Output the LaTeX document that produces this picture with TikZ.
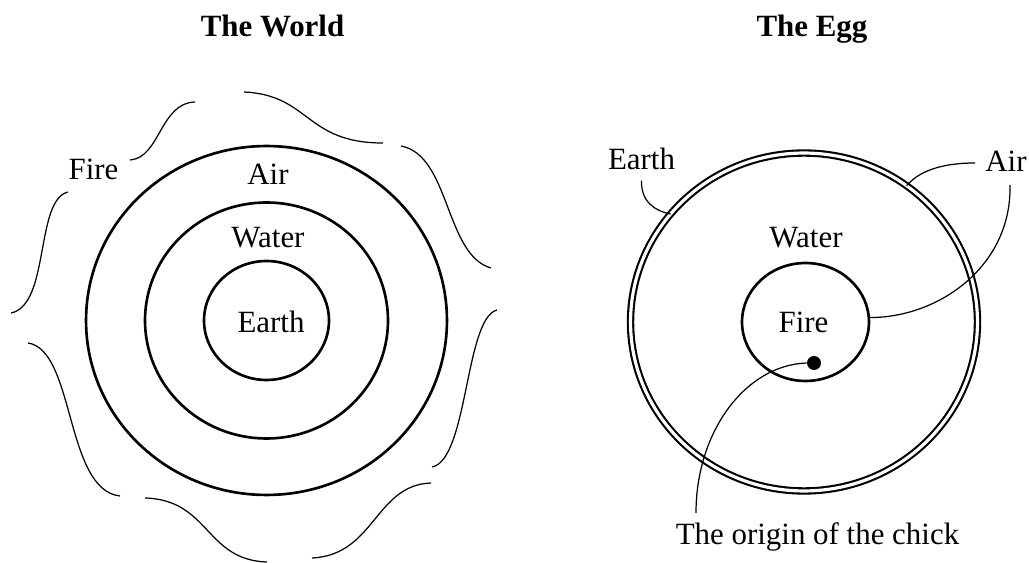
\documentclass[tikz,border=0pt]{standalone}
\usepackage{fontspec}
\setmainfont{Liberation Serif}
\usetikzlibrary{shapes.geometric}
\begin{document}
\begin{tikzpicture}[x=0.02cm,y=-0.02cm,
  ring/.style={draw, ellipse, line width=1.5pt, inner sep=0pt, outer sep=0pt},
  dring/.style={draw, ellipse, double, line width=1.2pt, double distance=1.8pt, inner sep=0pt, outer sep=0pt},
  flame/.style={line width=0.7pt},
  lead/.style={line width=0.7pt},
  lbl/.style={font=\fontsize{17.6}{20}\selectfont, inner sep=0pt, anchor=base},
  ttl/.style={font=\fontsize{17.6}{20}\selectfont\bfseries, inner sep=0pt, anchor=base}]
\useasboundingbox (0,0) rectangle (1029,563);

% ---------- The World ----------
\node[ttl] (tworld) at (272.5,37) {The World};
\node[ring, minimum width=7.22cm, minimum height=6.98cm] (wair) at (266.5,320.5) {};
\node[ring, minimum width=4.86cm, minimum height=4.72cm] (wwater) at (266.5,320.5) {};
\node[ring, minimum width=2.5cm, minimum height=2.38cm] (wearth) at (266.5,320.5) {};
\node[lbl] (lwfire) at (93.5,180) {Fire};
\node[lbl] (lwair) at (268,185) {Air};
\node[lbl] (lwwater) at (268,248) {Water};
\node[lbl] (lwearth) at (271,333) {Earth};

% fire: wavy broken ring
\draw[flame] (130,160) .. controls (160,158) and (160,103) .. (195,102);
\draw[flame] (244,92) .. controls (310,95) and (305,143) .. (383,143);
\draw[flame] (401,146) .. controls (450,155) and (445,255) .. (491,268);
\draw[flame] (497,310) .. controls (465,318) and (468,460) .. (432,467);
\draw[flame] (431,483) .. controls (375,485) and (375,555) .. (312,558);
\draw[flame] (145,498) .. controls (210,500) and (205,560) .. (267,562);
\draw[flame] (28,343) .. controls (75,350) and (65,490) .. (120,496);
\draw[flame] (68,192) .. controls (35,200) and (50,305) .. (11,313);

% ---------- The Egg ----------
\node[ttl] (tegg) at (812,37) {The Egg};
\node[dring, minimum width=6.94cm, minimum height=6.76cm] (eshell) at (804,322) {};
\node[ring, minimum width=2.54cm, minimum height=2.36cm] (efire) at (805.5,322) {};
\node[lbl] (leearth) at (641.5,170) {Earth};
\node[lbl] (leair) at (1006,172) {Air};
\node[lbl] (lewater) at (806,248) {Water};
\node[lbl] (lefire) at (803.5,333) {Fire};
\node[lbl] (lechick) at (817.5,545) {The origin of the chick};
\node[circle, fill, inner sep=0pt, minimum size=0.28cm] (dot) at (814,363) {};
\coordinate (chickend) at (696,513);

\draw[lead] ([shift={(0,10)}]leearth.south) .. controls (641,202) and (655,211) .. (eshell.141);
\draw[lead] ([shift={(-10,-9)}]leair.base west) .. controls (940,163) and (918,172) .. (eshell.53);
\draw[lead] ([shift={(4,13)}]leair.base) .. controls (1012,265) and (940,318) .. (efire.4);
\draw[lead] (dot.west) .. controls (746,365) and (696,431) .. (chickend);
\end{tikzpicture}
\end{document}
